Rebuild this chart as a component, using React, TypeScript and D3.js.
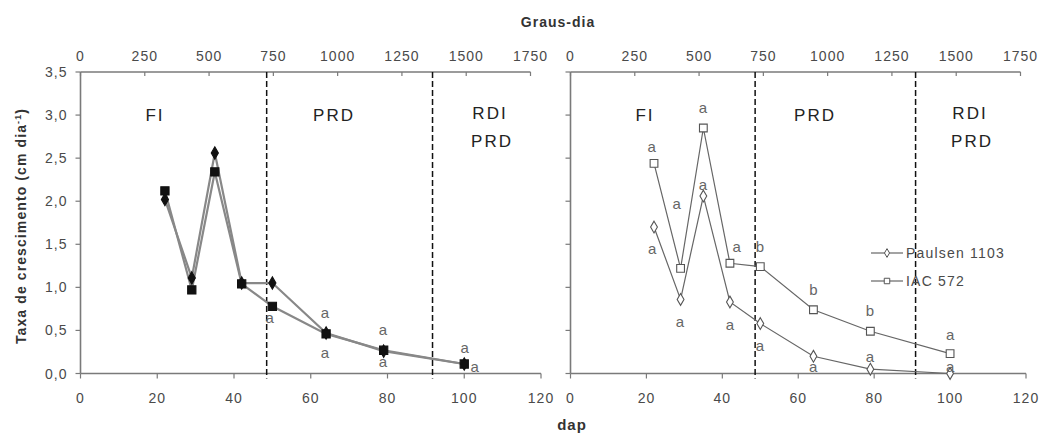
import { useEffect, useRef } from 'react'
import * as d3 from 'd3'

// days after planting (dap) sampled
const dap = [22, 29, 35, 42, 50, 64, 79, 100]

// left panel, two series (filled markers)
const leftDiamond = [2.02, 1.11, 2.56, 1.05, 1.05, 0.47, 0.26, 0.11]
const leftSquare  = [2.12, 0.97, 2.34, 1.04, 0.78, 0.46, 0.27, 0.11]

// right panel, two rootstocks (open markers)
const paulsen = [1.70, 0.86, 2.06, 0.83, 0.58, 0.20, 0.05, 0.0]
const iac572  = [2.44, 1.22, 2.85, 1.28, 1.24, 0.74, 0.49, 0.23]

const yTicks      = [0, 0.5, 1, 1.5, 2, 2.5, 3, 3.5]
const dapTicks    = [0, 20, 40, 60, 80, 100, 120]
const grausTicks  = [0, 250, 500, 750, 1000, 1250, 1500, 1750]

// phase boundaries in graus-dia (dashed lines)
const leftBounds  = [724, 1369]
const rightBounds = [718, 1342]

// significance letters: [dap, value, letter]
const leftLetters: [number, number, string][] = [
  [49.3, 0.645, 'a'], [63.7, 0.70, 'a'], [63.7, 0.24, 'a'], [78.8, 0.505, 'a'],
  [78.8, 0.13, 'a'], [100.1, 0.30, 'a'], [102.7, 0.075, 'a'],
]
const rightLetters: [number, number, string][] = [
  [21.4, 2.635, 'a'], [21.5, 1.446, 'a'], [28.0, 1.97, 'a'], [28.8, 0.60, 'a'],
  [34.9, 3.085, 'a'], [34.9, 2.19, 'a'], [43.8, 1.47, 'a'], [42.0, 0.56, 'a'],
  [49.9, 1.47, 'b'], [49.9, 0.32, 'a'], [64.0, 0.97, 'b'], [63.9, 0.08, 'a'],
  [78.9, 0.72, 'b'], [78.9, 0.195, 'a'], [100.0, 0.45, 'a'], [100.0, 0.08, 'a'],
]

const legendNames = ['Paulsen 1103', 'IAC 572']

const FONT = '"Liberation Sans", Arial, sans-serif'
const AXIS = '#7a7a7a'
const TXT  = '#4a4a4a'

export default function App() {
  const ref = useRef<SVGSVGElement>(null)

  useEffect(() => {
    if (!ref.current) return
    const svg = d3.select(ref.current)
    svg.selectAll('*').remove()

    const y = d3.scaleLinear().domain([0, 3.5]).range([373.5, 72])
    const fmt = (v: number) => d3.format('.1f')(v).replace('.', ',')

    function panel(left: number, dapRight: number, gdRight: number, showY: boolean,
                   series: { values: number[]; shape: d3.SymbolType; size: number; filled: boolean }[],
                   lineColor: string, lineWidth: number, bounds: number[],
                   letters: [number, number, string][], regionX: number[]) {
      const x  = d3.scaleLinear().domain([0, 120]).range([left, dapRight])
      const gx = d3.scaleLinear().domain([0, 1750]).range([left, gdRight])
      const g = svg.append('g')

      // axes lines
      g.append('line').attr('x1', left).attr('x2', dapRight).attr('y1', y(0)).attr('y2', y(0))
        .attr('stroke', AXIS).attr('stroke-width', 1.6)
      g.append('line').attr('x1', left).attr('x2', gdRight).attr('y1', y(3.5)).attr('y2', y(3.5))
        .attr('stroke', AXIS).attr('stroke-width', 1.6)
      g.append('line').attr('x1', left).attr('x2', left).attr('y1', y(0)).attr('y2', y(3.5))
        .attr('stroke', AXIS).attr('stroke-width', 1.6)

      // bottom ticks
      dapTicks.forEach(t => {
        g.append('line').attr('x1', x(t)).attr('x2', x(t)).attr('y1', y(0)).attr('y2', y(0) + 5)
          .attr('stroke', AXIS).attr('stroke-width', 1.2)
        g.append('text').attr('x', x(t)).attr('y', 403).attr('text-anchor', 'middle')
          .attr('font-size', 14).attr('letter-spacing', 1).attr('fill', TXT).text(t)
      })
      // top ticks
      grausTicks.forEach(t => {
        g.append('line').attr('x1', gx(t)).attr('x2', gx(t)).attr('y1', y(3.5)).attr('y2', y(3.5) + 4)
          .attr('stroke', AXIS).attr('stroke-width', 1.2)
        g.append('text').attr('x', gx(t)).attr('y', 61).attr('text-anchor', 'middle')
          .attr('font-size', 14).attr('letter-spacing', 1).attr('fill', TXT).text(t)
      })
      // left ticks
      yTicks.forEach(t => {
        g.append('line').attr('x1', left - 5).attr('x2', left).attr('y1', y(t)).attr('y2', y(t))
          .attr('stroke', AXIS).attr('stroke-width', 1.2)
        if (showY) {
          g.append('text').attr('x', left - 13).attr('y', y(t) + 5).attr('text-anchor', 'end')
            .attr('font-size', 14).attr('letter-spacing', 1).attr('fill', TXT).text(fmt(t))
        }
      })

      // phase boundaries
      bounds.forEach(b => {
        g.append('line').attr('x1', gx(b)).attr('x2', gx(b)).attr('y1', y(3.5)).attr('y2', y(0) + 5)
          .attr('stroke', '#111').attr('stroke-width', 1.5).attr('stroke-dasharray', '6,3')
      })

      // region labels
      const reg = (tx: number, ty: number, s: string) =>
        g.append('text').attr('x', tx).attr('y', ty).attr('text-anchor', 'middle')
          .attr('font-size', 17).attr('letter-spacing', 2).attr('fill', '#222').text(s)
      reg(regionX[0], 121, 'FI')
      reg(regionX[1], 121, 'PRD')
      reg(regionX[2], 119, 'RDI')
      reg(regionX[2] + 2, 147, 'PRD')

      // series
      const line = d3.line<number>().x((_, i) => x(dap[i])).y(d => y(d))
      series.forEach(s => {
        g.append('path').datum(s.values).attr('d', line).attr('fill', 'none')
          .attr('stroke', lineColor).attr('stroke-width', lineWidth)
      })
      series.forEach(s => {
        g.selectAll(null).data(s.values).join('path')
          .attr('transform', (d, i) => `translate(${x(dap[i])},${y(d)})`)
          .attr('d', d3.symbol(s.shape, s.size)())
          .attr('fill', s.filled ? '#111' : '#fff')
          .attr('stroke', s.filled ? '#111' : '#555')
          .attr('stroke-width', 1.1)
      })

      // letters
      g.selectAll(null).data(letters).join('text')
        .attr('x', d => x(d[0])).attr('y', d => y(d[1]) + 5).attr('text-anchor', 'middle')
        .attr('font-size', 15).attr('fill', '#666').text(d => d[2])

      return { x, gx }
    }

    panel(80.5, 541, 530.5, true, [
      { values: leftDiamond, shape: d3.symbolDiamond, size: 44, filled: true },
      { values: leftSquare, shape: d3.symbolSquare, size: 68, filled: true },
    ], '#888', 2.2, leftBounds, leftLetters, [155, 334, 490])

    panel(570.5, 1026, 1020.5, false, [
      { values: paulsen, shape: d3.symbolDiamond, size: 40, filled: false },
      { values: iac572, shape: d3.symbolSquare, size: 60, filled: false },
    ], '#666', 1.2, rightBounds, rightLetters, [645, 815, 970])

    // legend
    const lg = svg.append('g')
    legendNames.forEach((name, i) => {
      const ly = 253 + i * 28
      lg.append('line').attr('x1', 871).attr('x2', 903).attr('y1', ly).attr('y2', ly)
        .attr('stroke', '#666').attr('stroke-width', 1.2)
      lg.append('path').attr('transform', `translate(887,${ly})`)
        .attr('d', d3.symbol(i === 0 ? d3.symbolDiamond : d3.symbolSquare, i === 0 ? 22 : 30)())
        .attr('fill', '#fff').attr('stroke', '#555').attr('stroke-width', 1)
      lg.append('text').attr('x', 906).attr('y', ly + 5).attr('font-size', 14)
        .attr('letter-spacing', 1.2).attr('fill', TXT).text(name)
    })

    // titles
    svg.append('text').attr('x', 558).attr('y', 27).attr('text-anchor', 'middle')
      .attr('font-size', 14).attr('font-weight', 'bold').attr('letter-spacing', 1)
      .attr('fill', '#333').text('Graus-dia')
    svg.append('text').attr('x', 572).attr('y', 430).attr('text-anchor', 'middle')
      .attr('font-size', 15).attr('font-weight', 'bold').attr('letter-spacing', 1)
      .attr('fill', '#333').text('dap')
    const yt = svg.append('text').attr('transform', 'translate(26,226) rotate(-90)')
      .attr('text-anchor', 'middle').attr('font-size', 14).attr('font-weight', 'bold')
      .attr('letter-spacing', 1.1).attr('fill', '#333')
    yt.append('tspan').text('Taxa de crescimento (cm dia')
    yt.append('tspan').attr('font-size', 9).attr('dy', -5).text('-1')
    yt.append('tspan').attr('dy', 5).text(')')
  }, [])

  return (
    <svg ref={ref} width={1043} height={434}
      style={{ position: 'absolute', left: 0, top: 0, background: '#fff', fontFamily: FONT }} />
  )
}
